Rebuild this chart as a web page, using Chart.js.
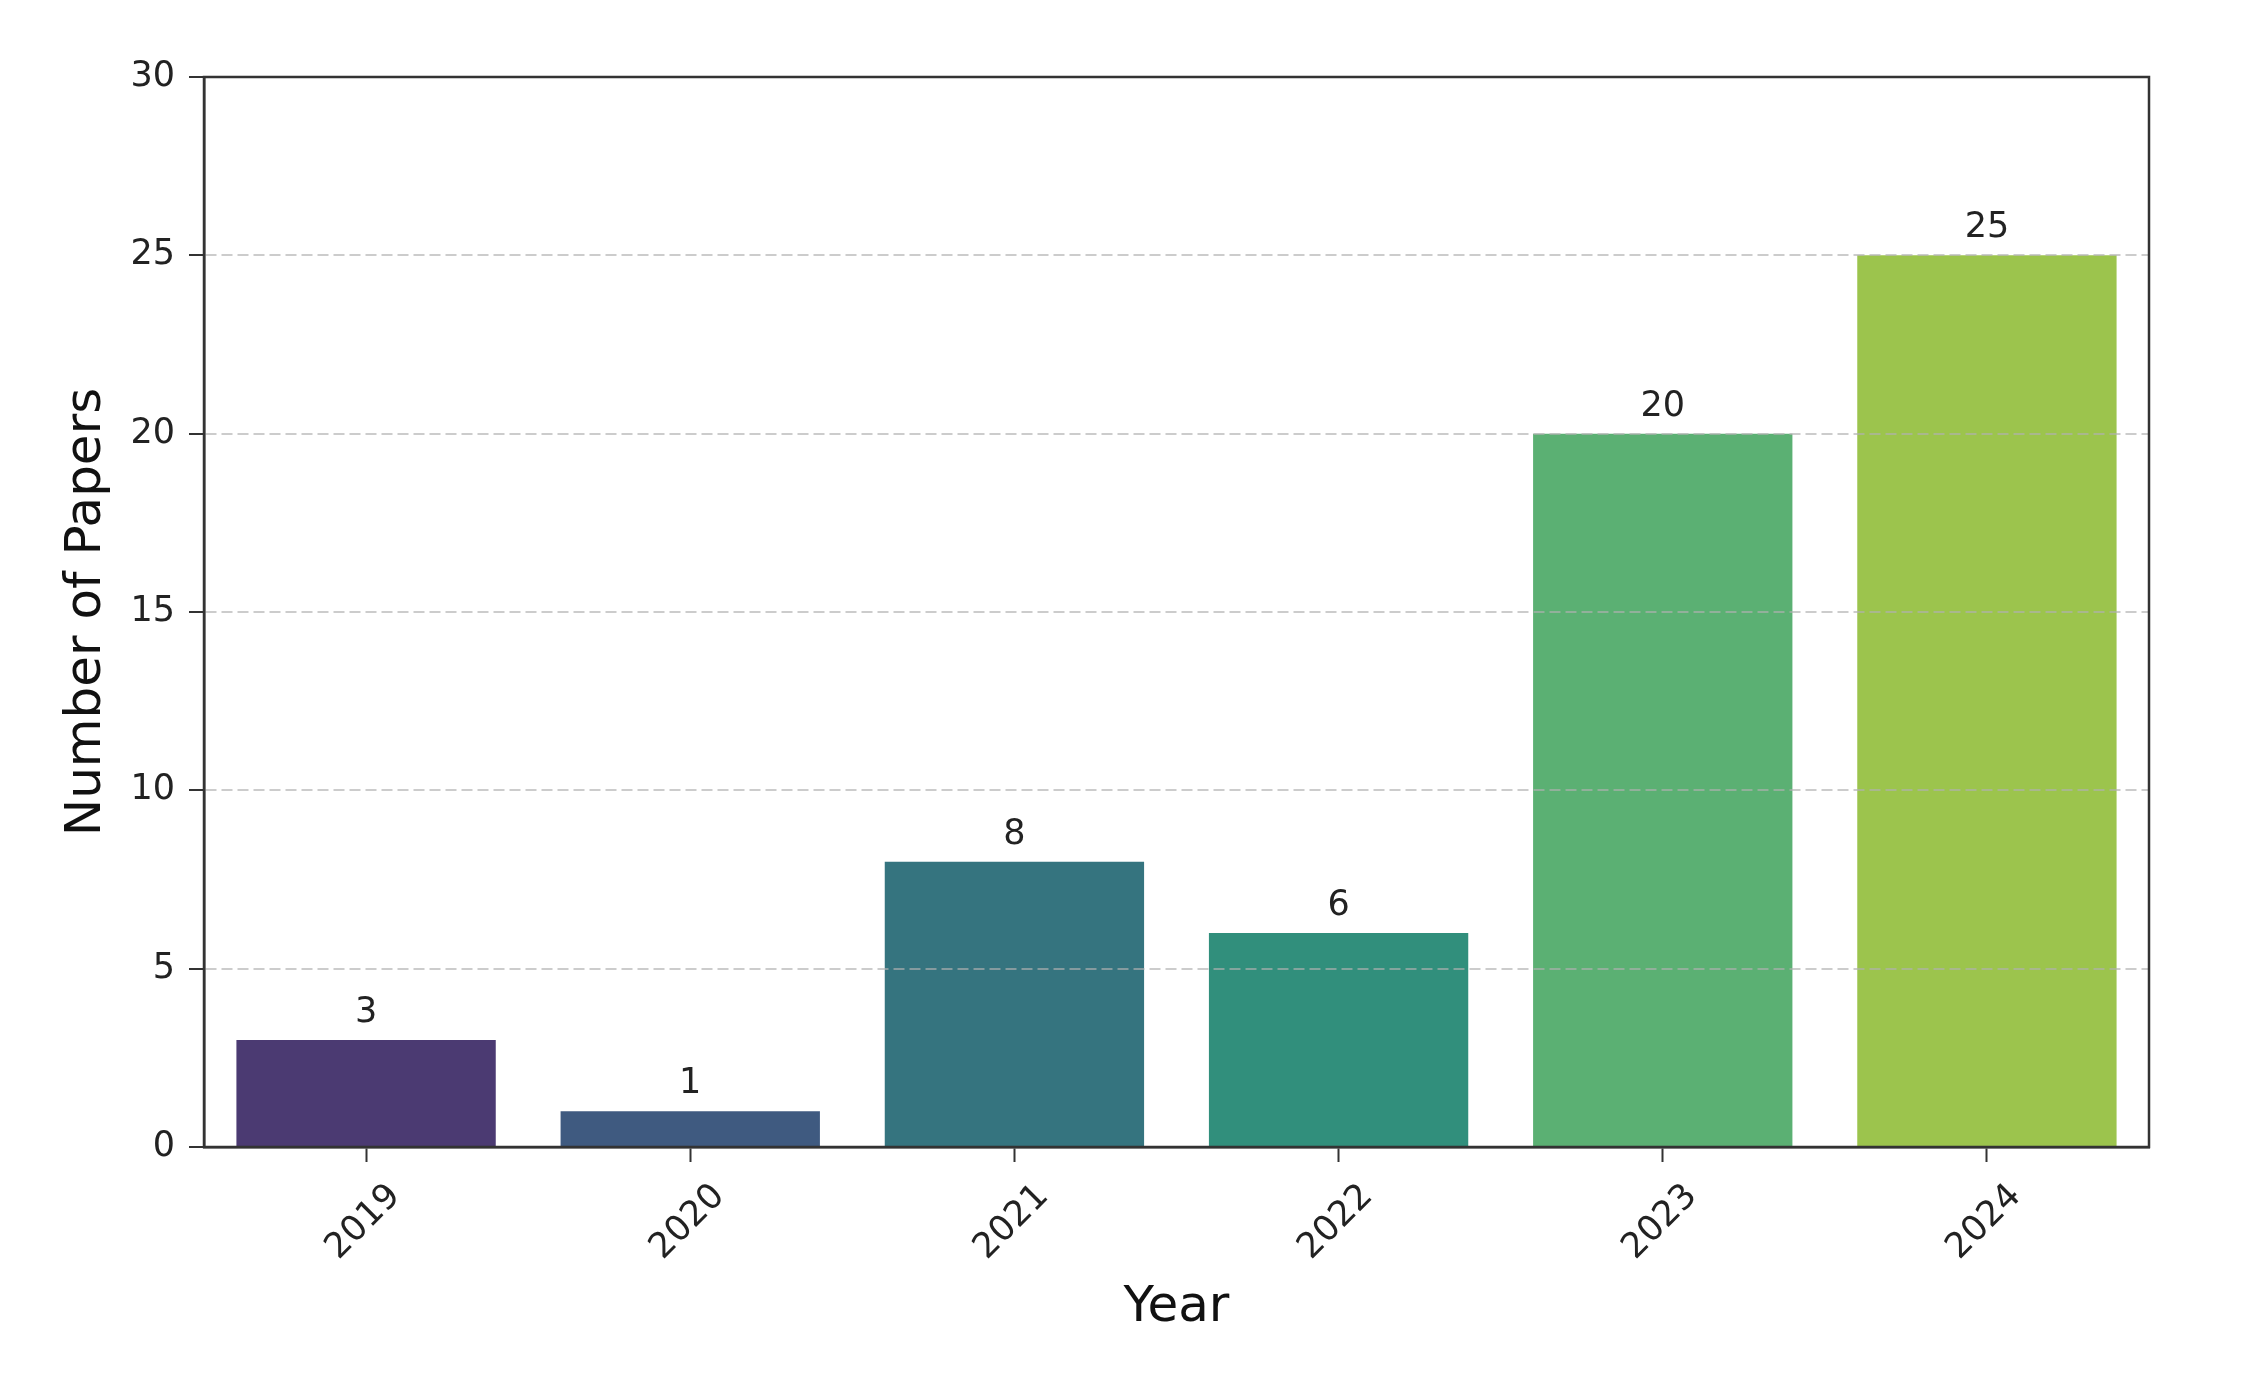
<!DOCTYPE html>
<html>
<head>
<meta charset="utf-8">
<script src="https://cdn.jsdelivr.net/npm/chart.js@4.4.1/dist/chart.umd.min.js"></script>
<style>
  html, body { margin: 0; padding: 0; background: #fff; }
  canvas { display: block; }
</style>
</head>
<body>
<canvas id="papersChart" width="2249" height="1384"></canvas>
<script>
// data
const years = ['2019', '2020', '2021', '2022', '2023', '2024'];
const paperCounts = [3, 1, 8, 6, 20, 25];
const barColors = ['#4b3a72', '#3f5a80', '#35747f', '#318f7c', '#5bb073', '#9cc44d'];
const yTicks = [0, 5, 10, 15, 20, 25, 30];

const FONT = "'DejaVu Sans', sans-serif";
const SPINE = '#333333';

// value above each bar
const barLabels = {
    id: 'barLabels',
    afterDatasetsDraw(chart) {
        const ctx = chart.ctx;
        const meta = chart.getDatasetMeta(0);
        ctx.save();
        ctx.font = '35px ' + FONT;
        ctx.fillStyle = '#222';
        ctx.textAlign = 'center';
        ctx.textBaseline = 'alphabetic';
        meta.data.forEach((bar, i) => {
            ctx.fillText(String(paperCounts[i]), bar.x, bar.y - 18);
        });
        ctx.restore();
    }
};

// full box around the plot (top and right spines)
const frame = {
    id: 'frame',
    afterDraw(chart) {
        const { ctx, chartArea: a } = chart;
        ctx.save();
        ctx.strokeStyle = SPINE;
        ctx.lineWidth = 2.5;
        ctx.setLineDash([]);
        ctx.strokeRect(a.left, a.top, a.right - a.left, a.bottom - a.top);
        ctx.restore();
    }
};

new Chart(document.getElementById('papersChart'), {
    type: 'bar',
    data: {
        labels: years,
        datasets: [{
            data: paperCounts,
            backgroundColor: barColors,
            borderWidth: 0,
            categoryPercentage: 0.8,
            barPercentage: 1.0
        }]
    },
    options: {
        responsive: false,
        devicePixelRatio: 1,
        animation: false,
        layout: { padding: { top: 77, right: 100, left: 0, bottom: 0 } },
        plugins: {
            legend: { display: false },
            tooltip: { enabled: false }
        },
        scales: {
            x: {
                offset: true,
                grid: {
                    offset: false,
                    drawOnChartArea: false,
                    drawTicks: true,
                    tickLength: 15,
                    tickColor: SPINE,
                    tickWidth: 2
                },
                border: { color: SPINE, width: 2.5 },
                ticks: {
                    color: '#222',
                    font: { family: FONT, size: 35 },
                    minRotation: 45,
                    maxRotation: 45,
                    labelOffset: 29,
                    padding: 14
                },
                title: {
                    display: true,
                    text: 'Year',
                    color: '#111',
                    font: { family: FONT, size: 50 },
                    padding: { top: 0, bottom: 46 }
                },
                afterFit(scale) { scale.height = 1384 - 1147; }
            },
            y: {
                min: 0,
                max: 30,
                afterBuildTicks(scale) { scale.ticks = yTicks.map(v => ({ value: v })); },
                // grid above the bars, like the reference
                grid: {
                    z: 1,
                    color: 'rgba(176,176,176,0.65)',
                    lineWidth: 2,
                    tickLength: 15,
                    tickColor: SPINE,
                    tickWidth: 2,
                    tickBorderDash: []
                },
                border: { z: 1, color: SPINE, width: 2.5, dash: [11, 5] },
                ticks: {
                    color: '#222',
                    font: { family: FONT, size: 35 },
                    padding: 14
                },
                title: {
                    display: true,
                    text: 'Number of Papers',
                    color: '#111',
                    font: { family: FONT, size: 50 },
                    padding: { top: 57, bottom: 0 }
                },
                afterFit(scale) { scale.width = 204; }
            }
        }
    },
    plugins: [barLabels, frame]
});
</script>
</body>
</html>
